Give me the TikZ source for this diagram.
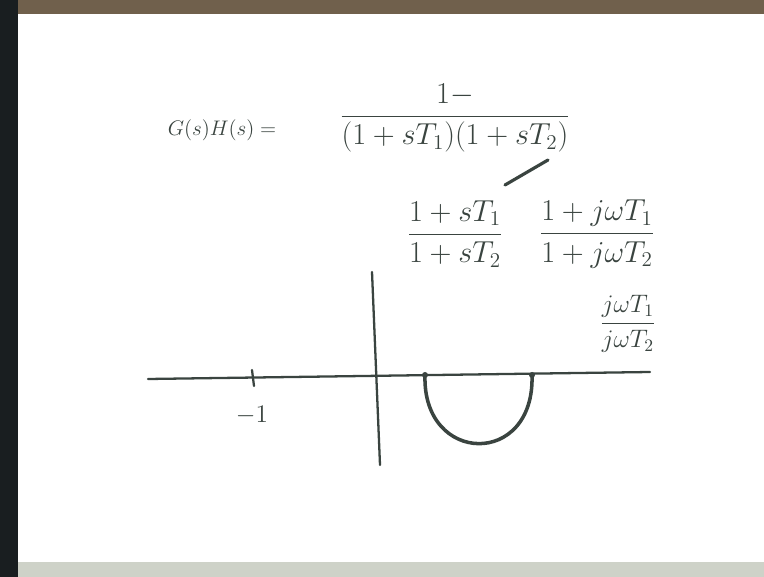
\documentclass[tikz,border=0pt]{standalone}
\usepackage{amsmath}
\usepackage{xcolor}
\usepackage{tikz}
\usetikzlibrary{positioning}
\definecolor{BoardInk}{RGB}{58,68,64}
\definecolor{BoardEdge}{RGB}{25,30,32}
\definecolor{BoardTop}{RGB}{112,96,76}
\definecolor{BoardFloor}{RGB}{206,210,200}

\begin{document}
\begin{tikzpicture}[x=0.02cm, y=-0.02cm,
        ink/.style={draw=BoardInk, line width=1.3pt, line cap=round},
        hand/.style={text=BoardInk, font=\Large, inner sep=1pt},
        bigfrac/.style={text=BoardInk, font=\LARGE, inner sep=1pt}
      ]
        % sheet and its edges
        \fill[white] (0,0) rectangle (764,577);
        \fill[BoardTop] (0,0) rectangle (764,14);
        \fill[BoardFloor] (0,562) rectangle (764,577);
        \fill[BoardEdge] (0,0) rectangle (18,577);
        % transfer function and its forms
        \node[hand, font=\large] (gh) at (222,130) {$G(s)H(s)=$};
        \node[bigfrac] (loopgain) at (455,118) {$\dfrac{1-}{(1+sT_1)(1+sT_2)}$};
        \node[bigfrac] (lead) at (455,234) {$\dfrac{1+sT_1}{1+sT_2}$};
        \node[bigfrac] (leadjw) at (597,234) {$\dfrac{1+j\omega T_1}{1+j\omega T_2}$};
        \node[hand] (ratio) at (628,324) {$\dfrac{j\omega T_1}{j\omega T_2}$};
        \draw[ink, line width=1.8pt] (505,185) -- (548,160);
        % polar plot
        \draw[ink] (148,379) -- (650,372);
        \draw[ink] (372,272) -- (380,465);
        \draw[ink] (252,370) -- (254,386);
        \node[hand] (minusone) at (252,415) {$-1$};
        \draw[ink, line width=2pt] (425,375) .. controls (422,465) and (535,468) .. (532,375);
        \fill[BoardInk] (425,375) circle (3) (532,375) circle (3);
      \end{tikzpicture}
\end{document}
